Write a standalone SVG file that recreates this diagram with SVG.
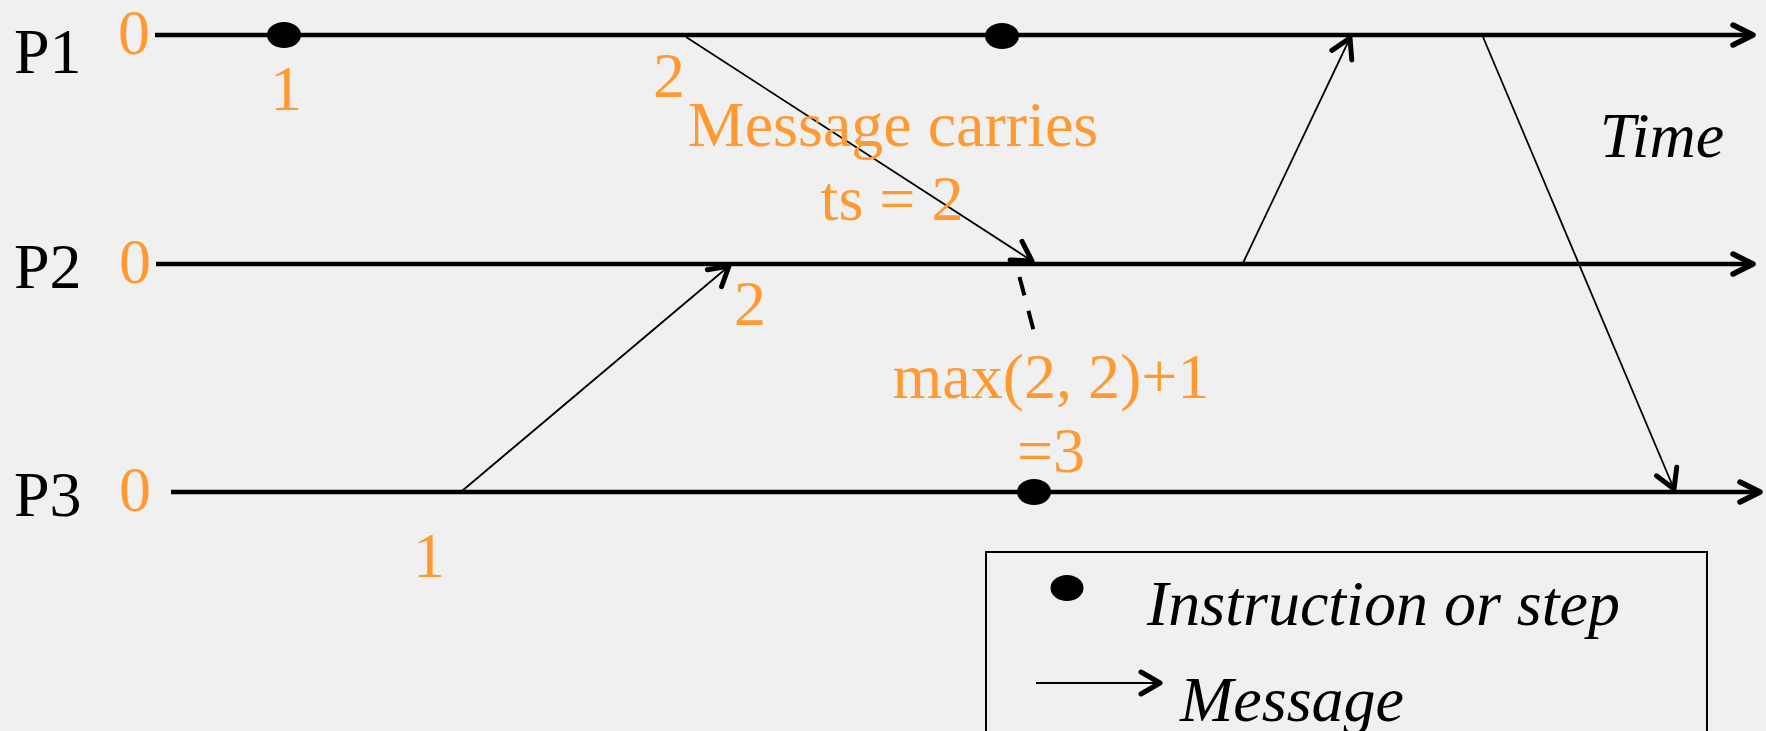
<svg xmlns="http://www.w3.org/2000/svg" width="1766" height="731" viewBox="0 0 1766 731">
  <style>
    .lbl { font-family: "Liberation Serif", "Times New Roman", serif; font-size: 64px; fill: #000; }
    .org { font-family: "Liberation Serif", "Times New Roman", serif; font-size: 64px; fill: #FF9A33; text-anchor: middle; }
    .ital { font-family: "Liberation Serif", "Times New Roman", serif; font-size: 64px; font-style: italic; fill: #000; }
    .tl { stroke: #000; stroke-width: 4.5; fill: none; marker-end: url(#tlhead); }
    .msg { stroke: #000; stroke-width: 1.8; fill: none; marker-end: url(#msghead); }
    .dot { fill: #000; }
  </style>
  <defs>
    <marker id="tlhead" viewBox="-26 -14 30 28" refX="0" refY="0" markerWidth="30" markerHeight="28" markerUnits="userSpaceOnUse" orient="auto" overflow="visible">
      <path d="M -20,-10 L 0,0 L -20,10" fill="none" stroke="#000" stroke-width="5.5" stroke-linecap="round" stroke-linejoin="round"/>
    </marker>
    <marker id="msghead" viewBox="-26 -14 30 28" refX="0" refY="0" markerWidth="30" markerHeight="28" markerUnits="userSpaceOnUse" orient="auto" overflow="visible">
      <path d="M -19,-11 L 0,0 L -19,11" fill="none" stroke="#000" stroke-width="5" stroke-linecap="round" stroke-linejoin="round"/>
    </marker>
  </defs>
  <rect x="0" y="0" width="1766" height="731" fill="#F0F0F0"/>

  <g id="P1">
    <text class="lbl" x="14" y="73">P1</text>
    <text class="org" x="134" y="54">0</text>
    <line class="tl" x1="155" y1="35" x2="1753" y2="35"/>
  </g>
  <g id="P2">
    <text class="lbl" x="14" y="288">P2</text>
    <text class="org" x="135" y="283">0</text>
    <line class="tl" x1="156" y1="264" x2="1753" y2="264"/>
  </g>
  <g id="P3">
    <text class="lbl" x="14" y="516">P3</text>
    <text class="org" x="135" y="511">0</text>
    <line class="tl" x1="171" y1="492" x2="1760" y2="492"/>
  </g>

  <g id="connectors">
    <line class="msg" x1="686" y1="37" x2="1032" y2="261"/>
    <line class="msg" x1="462" y1="491" x2="729" y2="266"/>
    <line class="msg" x1="1243" y1="263" x2="1350" y2="38"/>
    <line class="msg" x1="1483" y1="37" x2="1674" y2="489"/>
    <line x1="1019.5" y1="277" x2="1034" y2="332" stroke="#000" stroke-width="4" stroke-dasharray="19 16"/>
  </g>

  <g id="event-p1-1">
    <ellipse class="dot" cx="284" cy="35" rx="17" ry="13"/>
    <text class="org" x="286" y="110">1</text>
  </g>
  <g id="event-p1-2">
    <text class="org" x="669" y="97">2</text>
  </g>
  <g id="event-p1-3">
    <ellipse class="dot" cx="1002" cy="36" rx="17" ry="13"/>
  </g>
  <g id="event-p2-2">
    <text class="org" x="750" y="325">2</text>
  </g>
  <g id="event-p3-1">
    <text class="org" x="429" y="577">1</text>
  </g>
  <g id="event-p3-3">
    <ellipse class="dot" cx="1034" cy="492" rx="17" ry="13"/>
  </g>

  <g id="note-message">
    <text class="org" x="893" y="146">Message carries</text>
    <text class="org" x="892" y="220">ts = 2</text>
  </g>
  <g id="note-max">
    <text class="org" x="1051" y="398">max(2, 2)+1</text>
    <text class="org" x="1051" y="472">=3</text>
  </g>
  <g id="time-label">
    <text class="ital" x="1662" y="157" text-anchor="middle">Time</text>
  </g>

  <g id="legend">
    <rect x="986" y="552" width="721" height="200" fill="none" stroke="#000" stroke-width="2"/>
    <ellipse class="dot" cx="1067" cy="588" rx="16.5" ry="13"/>
    <text class="ital" x="1147" y="625">Instruction or step</text>
    <line class="msg" x1="1036" y1="683" x2="1160" y2="683" stroke-width="2"/>
    <text class="ital" x="1180" y="721">Message</text>
  </g>
</svg>
